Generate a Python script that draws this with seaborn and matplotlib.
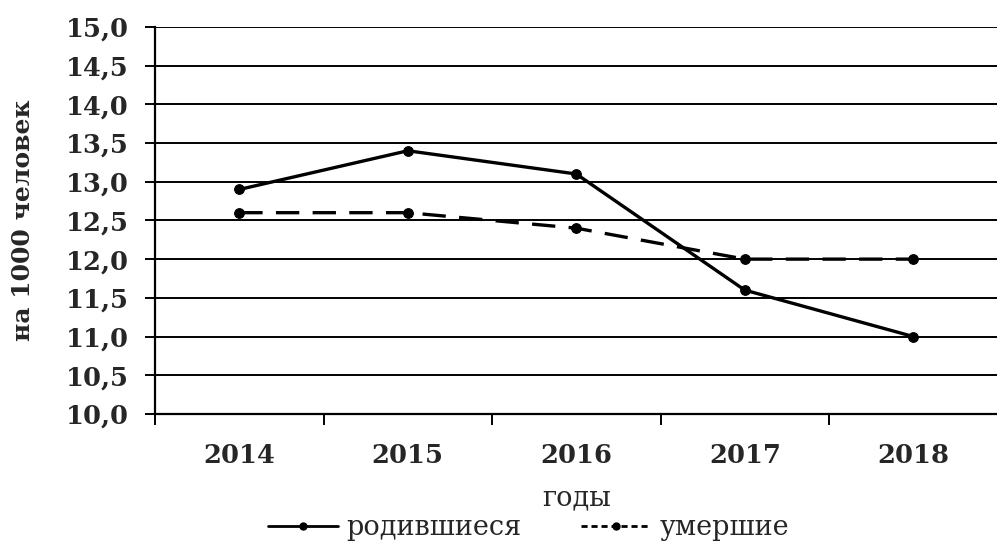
import matplotlib
matplotlib.use("Agg")
import matplotlib.pyplot as plt
from matplotlib.ticker import FixedLocator, FuncFormatter
from matplotlib.lines import Line2D
import seaborn as sns
import pandas as pd

years = ["2014", "2015", "2016", "2017", "2018"]
born = [12.9, 13.4, 13.1, 11.6, 11.0]
died = [12.6, 12.6, 12.4, 12.0, 12.0]
series_names = ["родившиеся", "умершие"]
y_ticks = [10.0, 10.5, 11.0, 11.5, 12.0, 12.5, 13.0, 13.5, 14.0, 14.5, 15.0]

sns.set_theme(style="white")
plt.rcParams["font.family"] = ["DejaVu Serif"]

df_born = pd.DataFrame({"год": years, "значение": born})
df_died = pd.DataFrame({"год": years, "значение": died})

fig = plt.figure(figsize=(9.97, 5.49), dpi=100)
ax = fig.add_axes([0.1555, 0.246, 0.845, 0.705])

for yv in y_ticks:
    ax.axhline(yv, color="black", lw=1.4, zorder=1)

sns.lineplot(data=df_born, x="год", y="значение", ax=ax, color="black",
             lw=2.4, marker="o", markersize=7, markeredgecolor="black",
             sort=False, zorder=3)
sns.lineplot(data=df_died, x="год", y="значение", ax=ax, color="black",
             lw=2.4, marker="o", markersize=7, markeredgecolor="black",
             sort=False, zorder=3)
ax.lines[-1].set_dashes([7, 4])

ax.set_xlim(-0.5, 4.5)
ax.set_ylim(10.0, 15.0)
ax.yaxis.set_major_locator(FixedLocator(y_ticks))
ax.yaxis.set_major_formatter(FuncFormatter(lambda v, p: f"{v:.1f}".replace(".", ",")))

ax.set_xticks(range(len(years)))
ax.set_xticklabels(years, fontweight="bold")
ax.xaxis.set_minor_locator(FixedLocator([-0.5, 0.5, 1.5, 2.5, 3.5]))
ax.tick_params(axis="x", which="major", length=0, pad=21, labelsize=18.5)
ax.tick_params(axis="x", which="minor", length=8, width=1.4, color="black",
               direction="out", bottom=True)
ax.tick_params(axis="y", which="major", length=7, width=1.4, color="black",
               direction="out", left=True, labelsize=18.5, pad=12)
for lbl in ax.get_yticklabels():
    lbl.set_fontweight("bold")

for side in ["top", "right"]:
    ax.spines[side].set_visible(False)
for side in ["left", "bottom"]:
    ax.spines[side].set_color("black")
    ax.spines[side].set_linewidth(1.6)

ax.set_xlabel("годы", fontsize=19.5, labelpad=12)
ax.set_ylabel("на 1000 человек", fontsize=18, fontweight="bold")
ax.yaxis.set_label_coords(-0.143, 0.5)

handles = [
    Line2D([], [], color="black", lw=2.0, marker="o", markersize=5),
    Line2D([], [], color="black", lw=2.0, ls=(0, (2.2, 1.4)), marker="o", markersize=5),
]
fig.legend(handles, series_names, loc="lower center", bbox_to_anchor=(0.53, -0.03),
           ncol=2, frameon=False, fontsize=19.5, handlelength=2.6,
           columnspacing=2.2, handletextpad=0.3)

fig.savefig("out.png", dpi=100)
